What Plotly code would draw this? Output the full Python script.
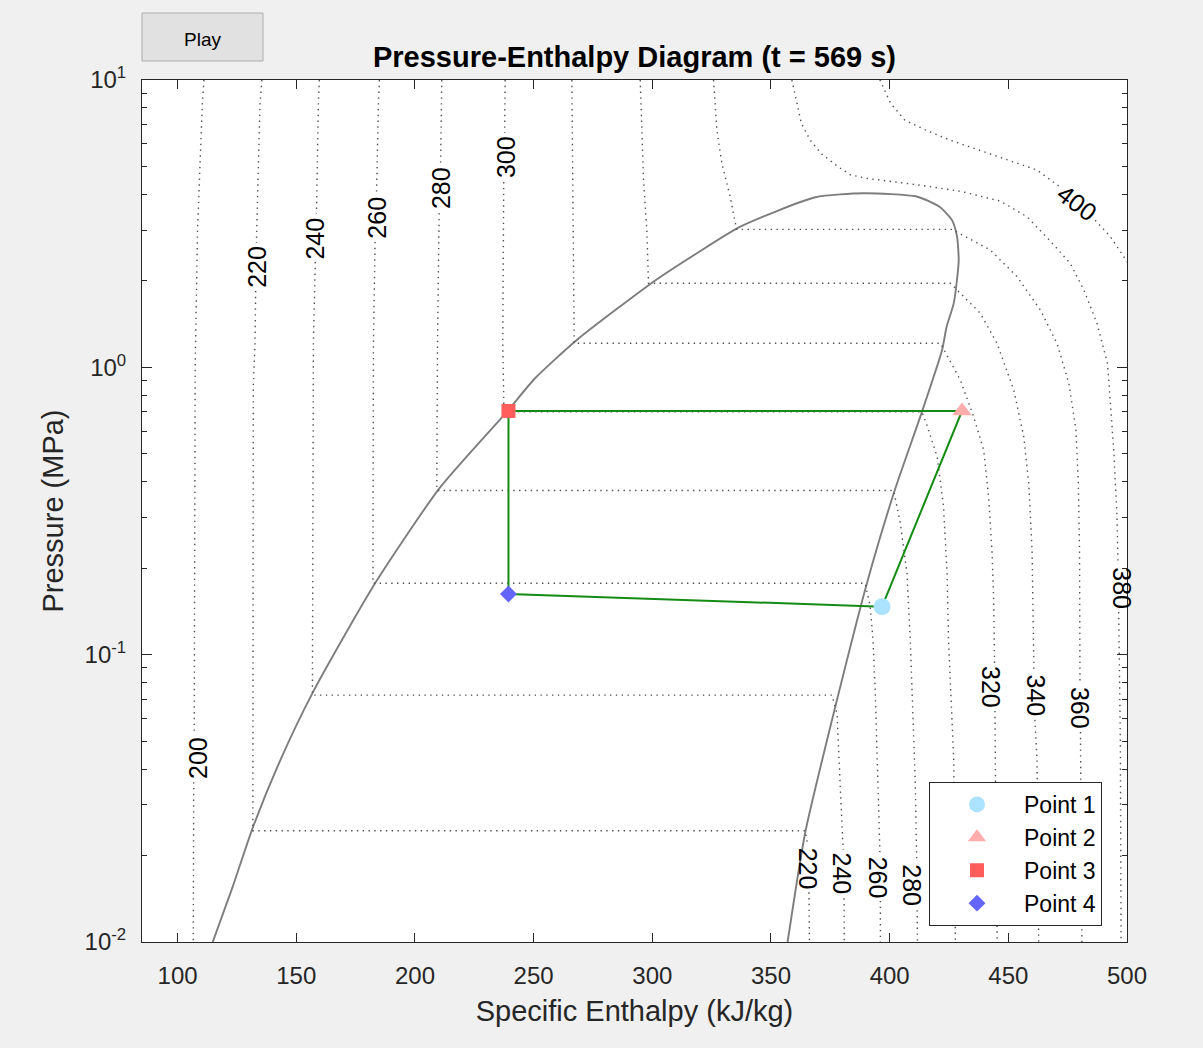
import numpy as np
import plotly.graph_objects as go

# ---------------- data ----------------
# saturation dome: liquid branch then vapour branch (h in kJ/kg, P in MPa)
dome_h = [114.8, 123.0, 131.9, 143.2, 157.2, 183.2, 210.6, 238.7,
          250.6, 268.2, 300.5, 318.8, 337.1, 368.7, 389.3,
          411.4, 421.0, 426.2, 428.4, 429.1, 428.6, 427.0, 424.0, 422.1, 413.6,
          401.7, 390.4, 377.8, 364.5, 357.0]
dome_P = [0.010, 0.0154, 0.0253, 0.0428, 0.0745, 0.1772, 0.382, 0.70,
          0.916, 1.245, 1.986, 2.495, 3.087, 3.907, 4.035,
          3.93, 3.62, 3.26, 2.85, 2.36, 2.10, 1.67, 1.385, 1.149, 0.70,
          0.364, 0.177, 0.0695, 0.0242, 0.010]

# isotherms (K); None = gap where the inline label sits
iso200_h = [111.1, 110.4, 108.4, 107.4, 107.0, None, 106.8, 106.6]
iso200_P = [10, 8.2, 3.0, 1.0, 0.0530, None, 0.0360, 0.010]

iso220_h = [135.5, 134.7, 133.2, None, 132.9, 132.6, 131.9, 131.7, 364.5, 365.4, None, 366.0, 366.2]
iso220_P = [10, 8.2, 2.709, None, 1.844, 1.2, 0.86, 0.0244, 0.0244, 0.0219, None, 0.0149, 0.010]

iso240_h = [159.7, 159.3, 158.5, None, 158.0, 157.2, 156.8, 375.7, 377.8, 379.2, 380.4, None, 380.8, 380.9]
iso240_P = [10, 8.2, 3.418, None, 2.326, 1.2, 0.0723, 0.0723, 0.0625, 0.0357, 0.0209, None, 0.0142, 0.010]

iso260_h = [185.0, 184.6, 183.8, None, 183.2, 182.5, 182.3, 389.7, 391.8, 393.0, 394.0, 394.7, 395.9, None, 396.1, 396.1]
iso260_P = [10, 8.2, 4.012, None, 2.731, 1.2, 0.1772, 0.1772, 0.1469, 0.1124, 0.0714, 0.0466, 0.0204, None, 0.0139, 0.010]

iso280_h = [211.3, 210.8, None, 210.2, 209.5, 209.2, 401.7, 404.5, 407.3, 408.7, 410.8, 411.4, None, 411.6, 411.7]
iso280_P = [10, 5.102, None, 3.441, 1.2, 0.3729, 0.3729, 0.2864, 0.192, 0.1124, 0.0357, 0.0190, None, 0.0129, 0.010]

iso300_h = [238.0, 237.8, None, 237.4, 237.0, 237.5, 413.6, 415.7, 420.0, 422.7, 424.2, 424.8, 427.0, 427.7]
iso300_P = [10, 6.541, None, 4.412, 1.2, 0.70, 0.70, 0.63, 0.4887, 0.3273, 0.192, 0.1124, 0.043, 0.010]

iso320_h = [266.1, 266.7, 267.1, 421.4, 429.8, 435.4, 439.6, 441.7, 443.1, 443.8, 444.2, None, 444.4, 444.5, 445.3]
iso320_P = [10, 3.0, 1.2127, 1.2127, 0.903, 0.673, 0.5157, 0.3546, 0.2313, 0.1584, 0.0935, None, 0.0637, 0.043, 0.010]

iso340_h = [294.9, 296.3, 297.7, 298.4, 425.6, 438.2, 445.2, 452.3, 456.5, 458.6, 460.0, 460.8, None, 461.2, 462.1, 462.8]
iso340_P = [10, 4.49, 3.0, 1.961, 1.961, 1.542, 1.2127, 0.834, 0.5736, 0.3948, 0.2313, 0.0870, None, 0.0593, 0.043, 0.010]

iso360_h = [325.8, 327.2, 329.3, 332.8, 335.5, 426.3, 442.4, 453.7, 463.5, 470.5, 475.5, 478.5, 479.5, 480.0, 480.2, None, 480.4, 481.0]
iso360_P = [10, 6.70, 5.13, 3.93, 3.022, 3.022, 2.561, 2.068, 1.583, 1.2127, 0.88, 0.605, 0.3948, 0.2313, 0.0790, None, 0.0538, 0.010]

iso380_h = [358.8, 362.8, 366.5, 371.0, 378.3, 383.4, 390.0, 411.5, 429.8, 446.6, 457.9, 467.7, 476.1,
            481.8, 487.4, 491.8, 493.0, 494.4, 495.8, 496.2, None, 496.5, 497.2, 497.5]
iso380_P = [10, 7.06, 6.18, 5.56, 4.99, 4.68, 4.55, 4.32, 4.10, 3.79, 3.34, 2.75, 2.30,
            1.86, 1.42, 1.03, 0.75, 0.516, 0.302, 0.2068, None, 0.1408, 0.05, 0.010]

iso400_h = [395.9, 400.4, 406.3, 415.1, 425.4, 437.5, 450.0, 462.1, 471.4, None, 486.6, 493.0, 498.6, 502.0]
iso400_P = [10, 8.3, 7.26, 6.70, 6.18, 5.71, 5.25, 4.86, 4.266, None, 3.25, 2.85, 2.43, 2.20]

isotherms_h = [iso200_h, iso220_h, iso240_h, iso260_h, iso280_h, iso300_h,
               iso320_h, iso340_h, iso360_h, iso380_h, iso400_h]
isotherms_P = [iso200_P, iso220_P, iso240_P, iso260_P, iso280_P, iso300_P,
               iso320_P, iso340_P, iso360_P, iso380_P, iso400_P]

# inline isotherm labels
label_text = ["200", "220", "240", "260", "280", "300",
              "220", "240", "260", "280", "320", "340", "360", "380", "400"]
label_h = [108.3, 133.5, 158.0, 183.9, 210.9, 238.1,
           365.4, 380.1, 394.9, 409.6, 442.4, 461.7, 479.9, 497.9, 479.0]
label_P = [0.0438, 2.240, 2.812, 3.311, 4.200, 5.410,
           0.01806, 0.01725, 0.01680, 0.01570, 0.0770, 0.0720, 0.0651, 0.1702, 3.724]
label_angle = [-90, -90, -90, -90, -90, -90, 90, 90, 90, 90, 90, 90, 90, 90, 37]

# refrigeration cycle state points
state_names = ["Point 1", "Point 2", "Point 3", "Point 4"]
state_h = [396.8, 430.5, 239.4, 239.4]
state_P = [0.1469, 0.705, 0.705, 0.1627]
state_symbols = ["circle", "triangle-up", "square", "diamond"]
state_colors = ["rgb(170,226,255)", "rgb(255,172,172)", "rgb(255,92,92)", "rgb(100,100,255)"]
state_sizes = [17, 17, 14, 13]

x_ticks = [100, 150, 200, 250, 300, 350, 400, 450, 500]
y_ticks = [0.01, 0.1, 1, 10]
y_ticktext = ["10<sup>-2</sup>", "10<sup>-1</sup>", "10<sup>0</sup>", "10<sup>1</sup>"]
y_minor = [m * d for d in (0.01, 0.1, 1) for m in range(2, 10)]

# ---------------- figure ----------------
FONT = "Liberation Sans, Arial, Helvetica, sans-serif"
AX = "#262626"

fig = go.Figure()

fig.add_trace(go.Scatter(x=dome_h, y=dome_P, mode="lines",
                         line=dict(color="rgb(125,125,125)", width=1.9, shape="spline", smoothing=0.6),
                         showlegend=False, hoverinfo="skip"))

for hh, pp in zip(isotherms_h, isotherms_P):
    fig.add_trace(go.Scatter(x=hh, y=pp, mode="lines", connectgaps=False,
                             line=dict(color="rgb(80,80,80)", width=1.4, dash="1.4px,4.4px"),
                             showlegend=False, hoverinfo="skip"))

cyc_h = state_h + [state_h[0]]
cyc_P = state_P + [state_P[0]]
fig.add_trace(go.Scatter(x=cyc_h, y=cyc_P, mode="lines",
                         line=dict(color="rgb(20,140,20)", width=2),
                         showlegend=False, hoverinfo="skip"))

for name, h, p, sym, col, sz in zip(state_names, state_h, state_P, state_symbols,
                                     state_colors, state_sizes):
    fig.add_trace(go.Scatter(x=[h], y=[p], mode="markers", name=name,
                             marker=dict(symbol=sym, color=col, size=sz, line=dict(width=0))))

annotations = []
for t, h, p, a in zip(label_text, label_h, label_P, label_angle):
    annotations.append(dict(x=h, y=float(np.log10(p)), xref="x", yref="y", text=t,
                            showarrow=False, textangle=a, xanchor="center", yanchor="middle",
                            font=dict(family=FONT, size=25, color="black")))

# Play button
annotations.append(dict(x=(202.5 - 142) / 985, y=(942 - 40) / 862, xref="paper", yref="paper",
                        text="Play", showarrow=False, xanchor="center", yanchor="middle",
                        font=dict(family=FONT, size=19, color="black")))

fig.update_layout(
    template="none",
    width=1203, height=1048,
    paper_bgcolor="#f0f0f0", plot_bgcolor="white",
    margin=dict(l=142, r=76, t=80, b=106, pad=0, autoexpand=False),
    font=dict(family=FONT, color=AX),
    title=dict(text="<b>Pressure-Enthalpy Diagram (t = 569 s)</b>",
               x=0.5, xref="paper", xanchor="center",
               y=1 - 57 / 1048, yref="container", yanchor="middle",
               font=dict(family=FONT, size=29, color="black")),
    showlegend=True,
    legend=dict(x=(929 - 142) / 985, y=(942 - 782) / 862, xanchor="left", yanchor="top",
                bgcolor="white", bordercolor=AX, borderwidth=1,
                font=dict(family=FONT, size=23, color="black"),
                itemwidth=84, tracegroupgap=0),
    annotations=annotations,
    shapes=[dict(type="rect", xref="paper", yref="paper",
                 x0=0, x1=(263 - 142) / 985, y0=(942 - 61) / 862, y1=(942 - 13) / 862,
                 fillcolor="#e1e1e1", line=dict(color="#adadad", width=1))],
    hovermode=False,
)

fig.update_xaxes(range=[85, 500], tickmode="array", tickvals=x_ticks,
                 ticks="inside", ticklen=9, tickwidth=1, tickcolor=AX,
                 showline=True, linecolor=AX, linewidth=1, mirror="ticks",
                 showgrid=False, zeroline=False, ticklabelstandoff=12,
                 tickfont=dict(family=FONT, size=24, color=AX),
                 title=dict(text="Specific Enthalpy (kJ/kg)", standoff=12,
                            font=dict(family=FONT, size=29, color=AX)))

fig.update_yaxes(type="log", range=[-2, 1], tickmode="array", tickvals=y_ticks, ticktext=y_ticktext,
                 ticks="inside", ticklen=10, tickwidth=1, tickcolor=AX,
                 minor=dict(tickmode="array", tickvals=y_minor, ticks="inside", ticklen=5,
                            tickcolor=AX, showgrid=False),
                 showline=True, linecolor=AX, linewidth=1, mirror="ticks",
                 showgrid=False, zeroline=False, ticklabelstandoff=10,
                 tickfont=dict(family=FONT, size=24, color=AX),
                 title=dict(text="Pressure (MPa)", standoff=12,
                            font=dict(family=FONT, size=29, color=AX)))

fig.write_html("out.html", config={"displayModeBar": False},
               post_script="document.body.style.margin='0';document.body.style.overflow='hidden';")
